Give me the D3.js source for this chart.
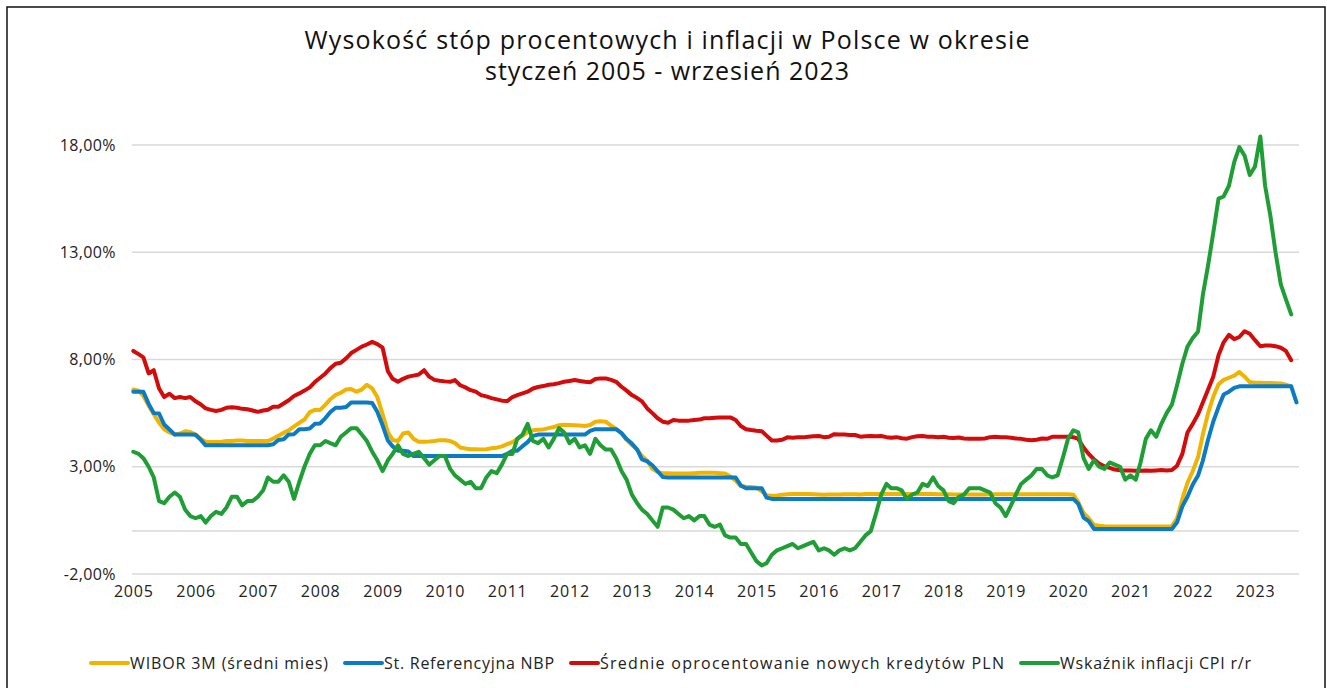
<!DOCTYPE html>
<html lang="pl">
<head>
<meta charset="utf-8">
<script src="https://cdn.jsdelivr.net/npm/d3@7"></script>
<style>
  html, body { margin: 0; padding: 0; background: #fff; }
  svg { display: block; font-family: 'Open Sans', sans-serif; }
</style>
</head>
<body>
<svg id="chart" width="1327" height="688"></svg>
<script>
// monthly data, January 2005 onwards (one value per month)
const yearLabels = d3.range(2005, 2024).map(String);
const yTicks = [-2, 3, 8, 13, 18];
const titleLines = ['Wysokość stóp procentowych i inflacji w Polsce w okresie', 'styczeń 2005 - wrzesień 2023'];
const seriesNames = ['WIBOR 3M (średni mies)', 'St. Referencyjna NBP', 'Średnie oprocentowanie nowych kredytów PLN', 'Wskaźnik inflacji CPI r/r'];

const wibor = [
  6.60, 6.55, 6.30, 5.85, 5.45, 5.05, 4.75, 4.60, 4.50, 4.55, 4.65, 4.62, // 2005
  4.50, 4.30, 4.17, 4.15, 4.15, 4.17, 4.20, 4.20, 4.22, 4.22, 4.20, 4.20, // 2006
  4.20, 4.20, 4.20, 4.32, 4.45, 4.58, 4.70, 4.88, 5.05, 5.20, 5.55, 5.65, // 2007
  5.65, 5.90, 6.15, 6.35, 6.45, 6.60, 6.62, 6.50, 6.60, 6.82, 6.65, 6.25, // 2008
  5.45, 4.60, 4.25, 4.20, 4.55, 4.60, 4.30, 4.17, 4.17, 4.18, 4.20, 4.24, // 2009
  4.24, 4.20, 4.10, 3.90, 3.85, 3.82, 3.82, 3.81, 3.82, 3.86, 3.89, 3.95, // 2010
  4.05, 4.15, 4.30, 4.45, 4.62, 4.70, 4.72, 4.74, 4.80, 4.85, 4.94, 4.96, // 2011
  4.95, 4.94, 4.92, 4.90, 4.95, 5.10, 5.12, 5.10, 4.92, 4.75, 4.56, 4.25, // 2012
  4.01, 3.80, 3.50, 3.28, 2.90, 2.75, 2.70, 2.70, 2.68, 2.68, 2.68, 2.68, // 2013
  2.70, 2.72, 2.72, 2.72, 2.72, 2.70, 2.68, 2.55, 2.35, 2.10, 2.07, 2.06, // 2014
  2.02, 1.86, 1.67, 1.65, 1.66, 1.70, 1.72, 1.73, 1.73, 1.73, 1.73, 1.72, // 2015
  1.71, 1.70, 1.71, 1.71, 1.71, 1.72, 1.72, 1.72, 1.71, 1.73, 1.73, 1.73, // 2016
  1.73, 1.73, 1.73, 1.73, 1.73, 1.73, 1.73, 1.73, 1.73, 1.73, 1.73, 1.72, // 2017
  1.72, 1.72, 1.71, 1.71, 1.71, 1.71, 1.71, 1.71, 1.71, 1.72, 1.72, 1.72, // 2018
  1.72, 1.72, 1.72, 1.72, 1.72, 1.72, 1.72, 1.72, 1.72, 1.72, 1.72, 1.72, // 2019
  1.72, 1.70, 1.35, 0.85, 0.60, 0.28, 0.25, 0.23, 0.22, 0.22, 0.21, 0.21, // 2020
  0.21, 0.21, 0.21, 0.21, 0.21, 0.21, 0.21, 0.21, 0.23, 0.60, 1.50, 2.25, // 2021
  2.80, 3.45, 4.50, 5.50, 6.26, 6.85, 7.05, 7.15, 7.25, 7.42, 7.20, 6.95, // 2022
  6.92, 6.92, 6.90, 6.90, 6.89, 6.88, 6.83, 6.75                          // 2023
];

const refRate = [
  6.50, 6.50, 6.50, 5.93, 5.50, 5.48, 4.97, 4.74, 4.50, 4.50, 4.50, 4.50, // 2005
  4.49, 4.25, 4.00, 4.00, 4.00, 4.00, 4.00, 4.00, 4.00, 4.00, 4.00, 4.00, // 2006
  4.00, 4.00, 4.00, 4.05, 4.25, 4.28, 4.50, 4.52, 4.75, 4.75, 4.78, 5.00, // 2007
  5.02, 5.27, 5.55, 5.75, 5.75, 5.79, 6.00, 6.00, 6.00, 6.00, 5.97, 5.56, // 2008
  4.93, 4.22, 3.95, 3.75, 3.75, 3.71, 3.50, 3.50, 3.50, 3.50, 3.50, 3.50, // 2009
  3.50, 3.50, 3.50, 3.50, 3.50, 3.50, 3.50, 3.50, 3.50, 3.50, 3.50, 3.50, // 2010
  3.60, 3.75, 3.75, 3.96, 4.15, 4.44, 4.50, 4.50, 4.50, 4.50, 4.50, 4.50, // 2011
  4.50, 4.50, 4.50, 4.50, 4.67, 4.75, 4.75, 4.75, 4.75, 4.75, 4.57, 4.29, // 2012
  4.08, 3.80, 3.34, 3.25, 3.07, 2.79, 2.52, 2.50, 2.50, 2.50, 2.50, 2.50, // 2013
  2.50, 2.50, 2.50, 2.50, 2.50, 2.50, 2.50, 2.50, 2.50, 2.13, 2.00, 2.00, // 2014
  2.00, 2.00, 1.56, 1.50, 1.50, 1.50, 1.50, 1.50, 1.50, 1.50, 1.50, 1.50, // 2015
  1.50, 1.50, 1.50, 1.50, 1.50, 1.50, 1.50, 1.50, 1.50, 1.50, 1.50, 1.50, // 2016
  1.50, 1.50, 1.50, 1.50, 1.50, 1.50, 1.50, 1.50, 1.50, 1.50, 1.50, 1.50, // 2017
  1.50, 1.50, 1.50, 1.50, 1.50, 1.50, 1.50, 1.50, 1.50, 1.50, 1.50, 1.50, // 2018
  1.50, 1.50, 1.50, 1.50, 1.50, 1.50, 1.50, 1.50, 1.50, 1.50, 1.50, 1.50, // 2019
  1.50, 1.50, 1.27, 0.63, 0.46, 0.10, 0.10, 0.10, 0.10, 0.10, 0.10, 0.10, // 2020
  0.10, 0.10, 0.10, 0.10, 0.10, 0.10, 0.10, 0.10, 0.10, 0.41, 1.15, 1.60, // 2021
  2.17, 2.59, 3.28, 4.27, 5.10, 5.78, 6.37, 6.50, 6.68, 6.75, 6.75, 6.75, // 2022
  6.75, 6.75, 6.75, 6.75, 6.75, 6.75, 6.75, 6.75, 6.00                    // 2023
];

const loanRate = [
  8.40, 8.25, 8.10, 7.35, 7.50, 6.65, 6.25, 6.40, 6.20, 6.25, 6.20, 6.25, // 2005
  6.05, 5.90, 5.72, 5.65, 5.60, 5.65, 5.75, 5.77, 5.75, 5.70, 5.68, 5.62, // 2006
  5.56, 5.62, 5.66, 5.80, 5.80, 5.95, 6.10, 6.30, 6.42, 6.55, 6.70, 6.95, // 2007
  7.15, 7.35, 7.60, 7.80, 7.85, 8.05, 8.30, 8.45, 8.60, 8.70, 8.82, 8.72, // 2008
  8.55, 7.45, 7.10, 6.96, 7.10, 7.20, 7.25, 7.30, 7.50, 7.20, 7.05, 7.01, // 2009
  6.98, 6.96, 7.04, 6.80, 6.70, 6.57, 6.50, 6.34, 6.28, 6.20, 6.14, 6.08, // 2010
  6.06, 6.25, 6.34, 6.42, 6.50, 6.65, 6.72, 6.76, 6.82, 6.85, 6.90, 6.96, // 2011
  7.00, 7.04, 7.00, 6.96, 6.94, 7.09, 7.12, 7.12, 7.05, 6.96, 6.73, 6.55, // 2012
  6.34, 6.20, 6.05, 5.72, 5.50, 5.26, 5.10, 5.05, 5.18, 5.15, 5.15, 5.15, // 2013
  5.18, 5.20, 5.26, 5.26, 5.28, 5.30, 5.30, 5.30, 5.18, 4.90, 4.75, 4.71, // 2014
  4.68, 4.66, 4.45, 4.22, 4.22, 4.26, 4.37, 4.35, 4.38, 4.37, 4.40, 4.42, // 2015
  4.43, 4.38, 4.40, 4.52, 4.50, 4.50, 4.48, 4.48, 4.40, 4.42, 4.43, 4.42, // 2016
  4.43, 4.38, 4.35, 4.38, 4.33, 4.31, 4.38, 4.42, 4.43, 4.40, 4.40, 4.38, // 2017
  4.40, 4.35, 4.34, 4.36, 4.32, 4.30, 4.30, 4.30, 4.32, 4.38, 4.40, 4.38, // 2018
  4.37, 4.35, 4.32, 4.30, 4.26, 4.24, 4.26, 4.32, 4.30, 4.40, 4.40, 4.40, // 2019
  4.40, 4.38, 4.30, 3.90, 3.60, 3.35, 3.15, 3.02, 2.95, 2.87, 2.84, 2.83, // 2020
  2.82, 2.81, 2.81, 2.82, 2.81, 2.83, 2.85, 2.83, 2.85, 3.05, 3.60, 4.60, // 2021
  5.00, 5.45, 6.00, 6.60, 7.20, 8.20, 8.80, 9.15, 8.95, 9.05, 9.32, 9.20, // 2022
  8.90, 8.62, 8.65, 8.65, 8.62, 8.55, 8.40, 7.97                          // 2023
];

const cpi = [
  3.7, 3.6, 3.4, 3.0, 2.5, 1.4, 1.3, 1.6, 1.8, 1.6, 1.0, 0.7,             // 2005
  0.6, 0.7, 0.4, 0.7, 0.9, 0.8, 1.1, 1.6, 1.6, 1.2, 1.4, 1.4,             // 2006
  1.6, 1.9, 2.5, 2.3, 2.3, 2.6, 2.3, 1.5, 2.3, 3.0, 3.6, 4.0,             // 2007
  4.0, 4.2, 4.1, 4.0, 4.4, 4.6, 4.8, 4.8, 4.5, 4.2, 3.7, 3.3,             // 2008
  2.8, 3.3, 3.6, 4.0, 3.6, 3.5, 3.6, 3.7, 3.4, 3.1, 3.3, 3.5,             // 2009
  3.5, 2.9, 2.6, 2.4, 2.2, 2.3, 2.0, 2.0, 2.5, 2.8, 2.7, 3.1,             // 2010
  3.6, 3.6, 4.3, 4.5, 5.0, 4.2, 4.1, 4.3, 3.9, 4.3, 4.8, 4.6,             // 2011
  4.1, 4.3, 3.9, 4.0, 3.6, 4.3, 4.0, 3.8, 3.8, 3.4, 2.8, 2.4,             // 2012
  1.7, 1.3, 1.0, 0.8, 0.5, 0.2, 1.1, 1.1, 1.0, 0.8, 0.6, 0.7,             // 2013
  0.5, 0.7, 0.7, 0.3, 0.2, 0.3, -0.2, -0.3, -0.3, -0.6, -0.6, -1.0,       // 2014
  -1.4, -1.6, -1.5, -1.1, -0.9, -0.8, -0.7, -0.6, -0.8, -0.7, -0.6, -0.5, // 2015
  -0.9, -0.8, -0.9, -1.1, -0.9, -0.8, -0.9, -0.8, -0.5, -0.2, 0.0, 0.8,   // 2016
  1.7, 2.2, 2.0, 2.0, 1.9, 1.5, 1.7, 1.8, 2.2, 2.1, 2.5, 2.1,             // 2017
  1.9, 1.4, 1.3, 1.6, 1.7, 2.0, 2.0, 2.0, 1.9, 1.8, 1.3, 1.1,             // 2018
  0.7, 1.2, 1.7, 2.2, 2.4, 2.6, 2.9, 2.9, 2.6, 2.5, 2.6, 3.4,             // 2019
  4.3, 4.7, 4.6, 3.4, 2.9, 3.3, 3.0, 2.9, 3.2, 3.1, 3.0, 2.4,             // 2020
  2.6, 2.4, 3.2, 4.3, 4.7, 4.4, 5.0, 5.5, 5.9, 6.8, 7.8, 8.6,             // 2021
  9.0, 9.3, 11.0, 12.4, 13.9, 15.5, 15.6, 16.1, 17.2, 17.9, 17.5, 16.6,   // 2022
  17.0, 18.4, 16.1, 14.7, 13.0, 11.5, 10.8, 10.1                          // 2023
];

const seriesValues = [wibor, refRate, loanRate, cpi];
const seriesColors = ['#f0b400', '#0a7bc4', '#d40b0b', '#1f9e36'];

// ---- layout ----
const svg = d3.select('#chart');
const plotLeft = 132, plotRight = 1299;

const monthDate = i => new Date(2005, i, 1);
const x = d3.scaleTime()
    .domain([new Date(2005, 0, 1), new Date(2023, 8, 1)])
    .range([133.3, 1296.5]);
const y = d3.scaleLinear()
    .domain([-2, 18])
    .range([574, 145]);

// frame
svg.append('rect')
    .attr('x', 7).attr('y', 7)
    .attr('width', 1318).attr('height', 700)
    .attr('fill', 'none')
    .attr('stroke', '#111')
    .attr('stroke-width', 1.5);

// title, stretched to the width of the original lines
const titleWidths = [725, 364];
svg.append('g').selectAll('text')
    .data(titleLines)
    .join('text')
    .attr('x', 667)
    .attr('y', (d, i) => 49 + i * 31)
    .attr('text-anchor', 'middle')
    .attr('font-size', 25)
    .attr('textLength', (d, i) => titleWidths[i])
    .attr('lengthAdjust', 'spacing')
    .attr('fill', '#111')
    .text(d => d);

// horizontal gridlines + zero axis line
svg.append('g').selectAll('line')
    .data(yTicks.concat([0]))
    .join('line')
    .attr('x1', plotLeft).attr('x2', plotRight)
    .attr('y1', d => y(d)).attr('y2', d => y(d))
    .attr('stroke', '#d9d9d9')
    .attr('stroke-width', 1.5);

// y axis labels
const fmt = d => d.toFixed(2).replace('.', ',') + '%';
const yAxis = svg.append('g')
    .attr('transform', `translate(${plotLeft},0)`)
    .call(d3.axisLeft(y).tickValues(yTicks).tickFormat(fmt).tickSize(0).tickPadding(16));
yAxis.select('.domain').remove();
yAxis.selectAll('text')
    .attr('font-family', "'Open Sans', sans-serif")
    .attr('font-size', 16)
    .attr('letter-spacing', 0.4)
    .attr('fill', '#222');

// x axis year labels
const xAxis = svg.append('g')
    .attr('transform', `translate(0,${y(-2)})`)
    .call(d3.axisBottom(x)
        .tickValues(yearLabels.map(yr => new Date(+yr, 0, 1)))
        .tickFormat(d3.timeFormat('%Y'))
        .tickSize(0).tickPadding(12));
xAxis.select('.domain').remove();
xAxis.selectAll('text')
    .attr('font-family', "'Open Sans', sans-serif")
    .attr('font-size', 16)
    .attr('letter-spacing', 0.8)
    .attr('fill', '#222');

// series lines
const line = d3.line()
    .x((d, i) => x(monthDate(i)))
    .y(d => y(d));

svg.append('g').selectAll('path')
    .data(seriesValues)
    .join('path')
    .attr('fill', 'none')
    .attr('stroke', (d, i) => seriesColors[i])
    .attr('stroke-width', 4)
    .attr('stroke-linejoin', 'round')
    .attr('stroke-linecap', 'round')
    .attr('d', line);

// legend
const legendX = [91, 345, 571, 1021];
const swatchLen = [37, 37, 27, 37];
const legendTextW = [198, 170, 404, 191];
const legend = svg.append('g').selectAll('g')
    .data(seriesNames)
    .join('g')
    .attr('transform', (d, i) => `translate(${legendX[i]},663)`);

legend.append('line')
    .attr('x1', 0).attr('x2', (d, i) => swatchLen[i])
    .attr('stroke', (d, i) => seriesColors[i])
    .attr('stroke-width', 4)
    .attr('stroke-linecap', 'round');

legend.append('text')
    .attr('x', (d, i) => swatchLen[i] + 2)
    .attr('dy', '0.35em')
    .attr('font-size', 16)
    .attr('textLength', (d, i) => legendTextW[i])
    .attr('lengthAdjust', 'spacing')
    .attr('fill', '#222')
    .text(d => d);
</script>
</body>
</html>
